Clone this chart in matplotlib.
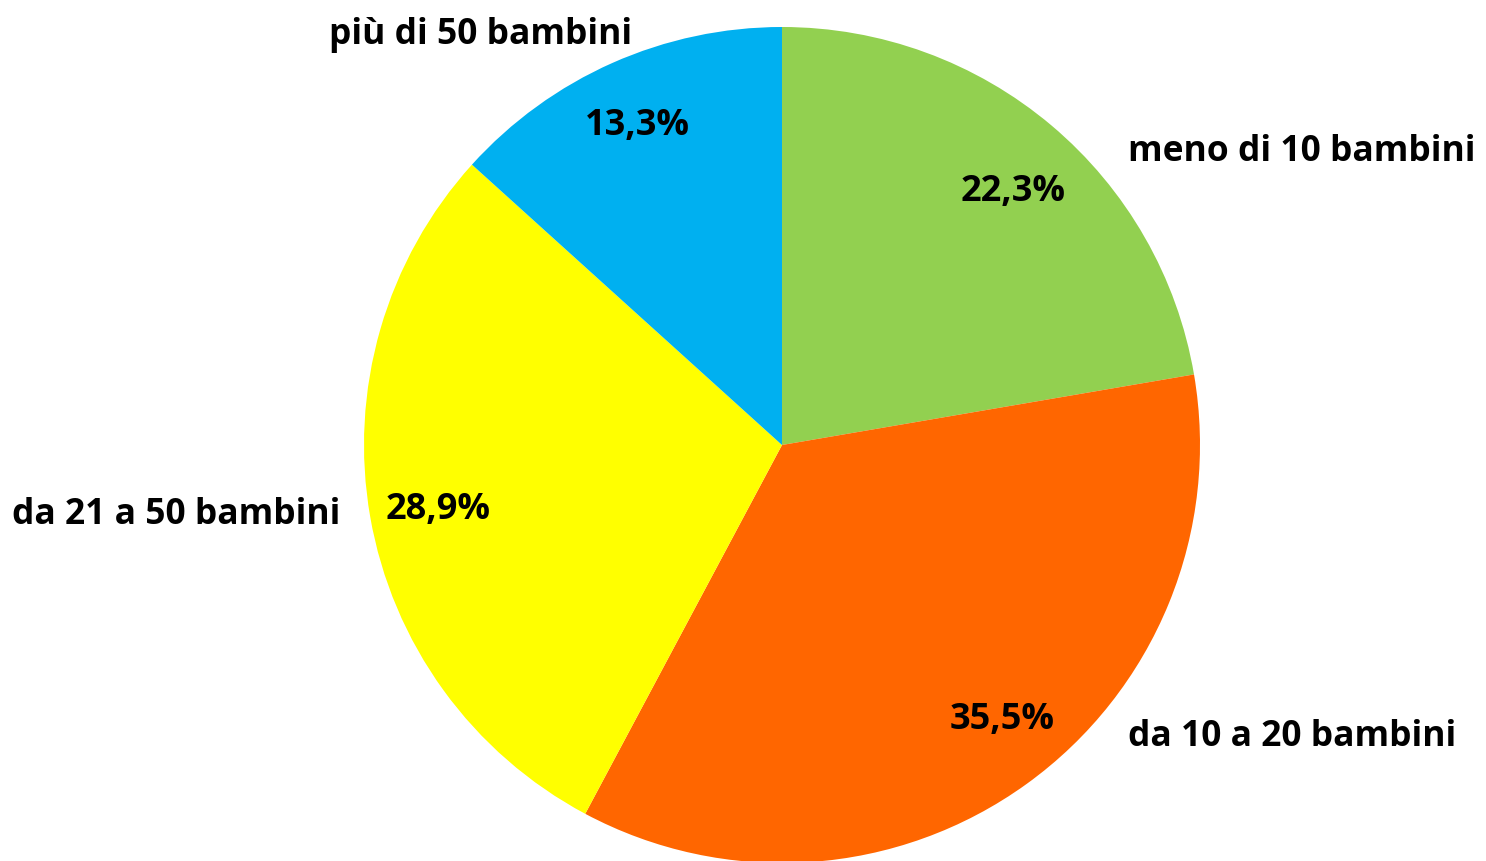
import matplotlib
matplotlib.use("Agg")
import matplotlib.pyplot as plt

categories = ["meno di 10 bambini", "da 10 a 20 bambini", "da 21 a 50 bambini", "più di 50 bambini"]
values = [22.3, 35.5, 28.9, 13.3]
pct_labels = ["22,3%", "35,5%", "28,9%", "13,3%"]
colors = ["#92D050", "#FF6600", "#FFFF00", "#00B0F0"]

W, H = 1486, 862
fig = plt.figure(figsize=(W / 100, H / 100), dpi=100)
ax = fig.add_axes([0, 0, 1, 1])

cx, cy, r = 782, H - 446, 418
ax.pie(values, colors=colors, startangle=90, counterclock=False,
       radius=r, center=(cx, cy), frame=True,
       wedgeprops=dict(linewidth=0))
ax.set_xlim(0, W)
ax.set_ylim(0, H)
ax.set_aspect("equal")
ax.axis("off")

font = "Open Sans"
# category label layout: (x, y, ha)
cat_pos = [(1128, H - 152, "left"), (1128, H - 737, "left"),
           (340, H - 515, "right"), (632, H - 35, "right")]
for (x, y, ha), t in zip(cat_pos, categories):
    ax.text(x, y, t, ha=ha, va="center", fontsize=25.5, fontweight="bold",
            family=font, color="black")

pct_pos = [(1013, H - 192), (1002, H - 720), (438, H - 510), (637, H - 126)]
for (x, y), t in zip(pct_pos, pct_labels):
    ax.text(x, y, t, ha="center", va="center", fontsize=26, fontweight="bold",
            family=font, color="black")

fig.savefig("out.png", dpi=100)
